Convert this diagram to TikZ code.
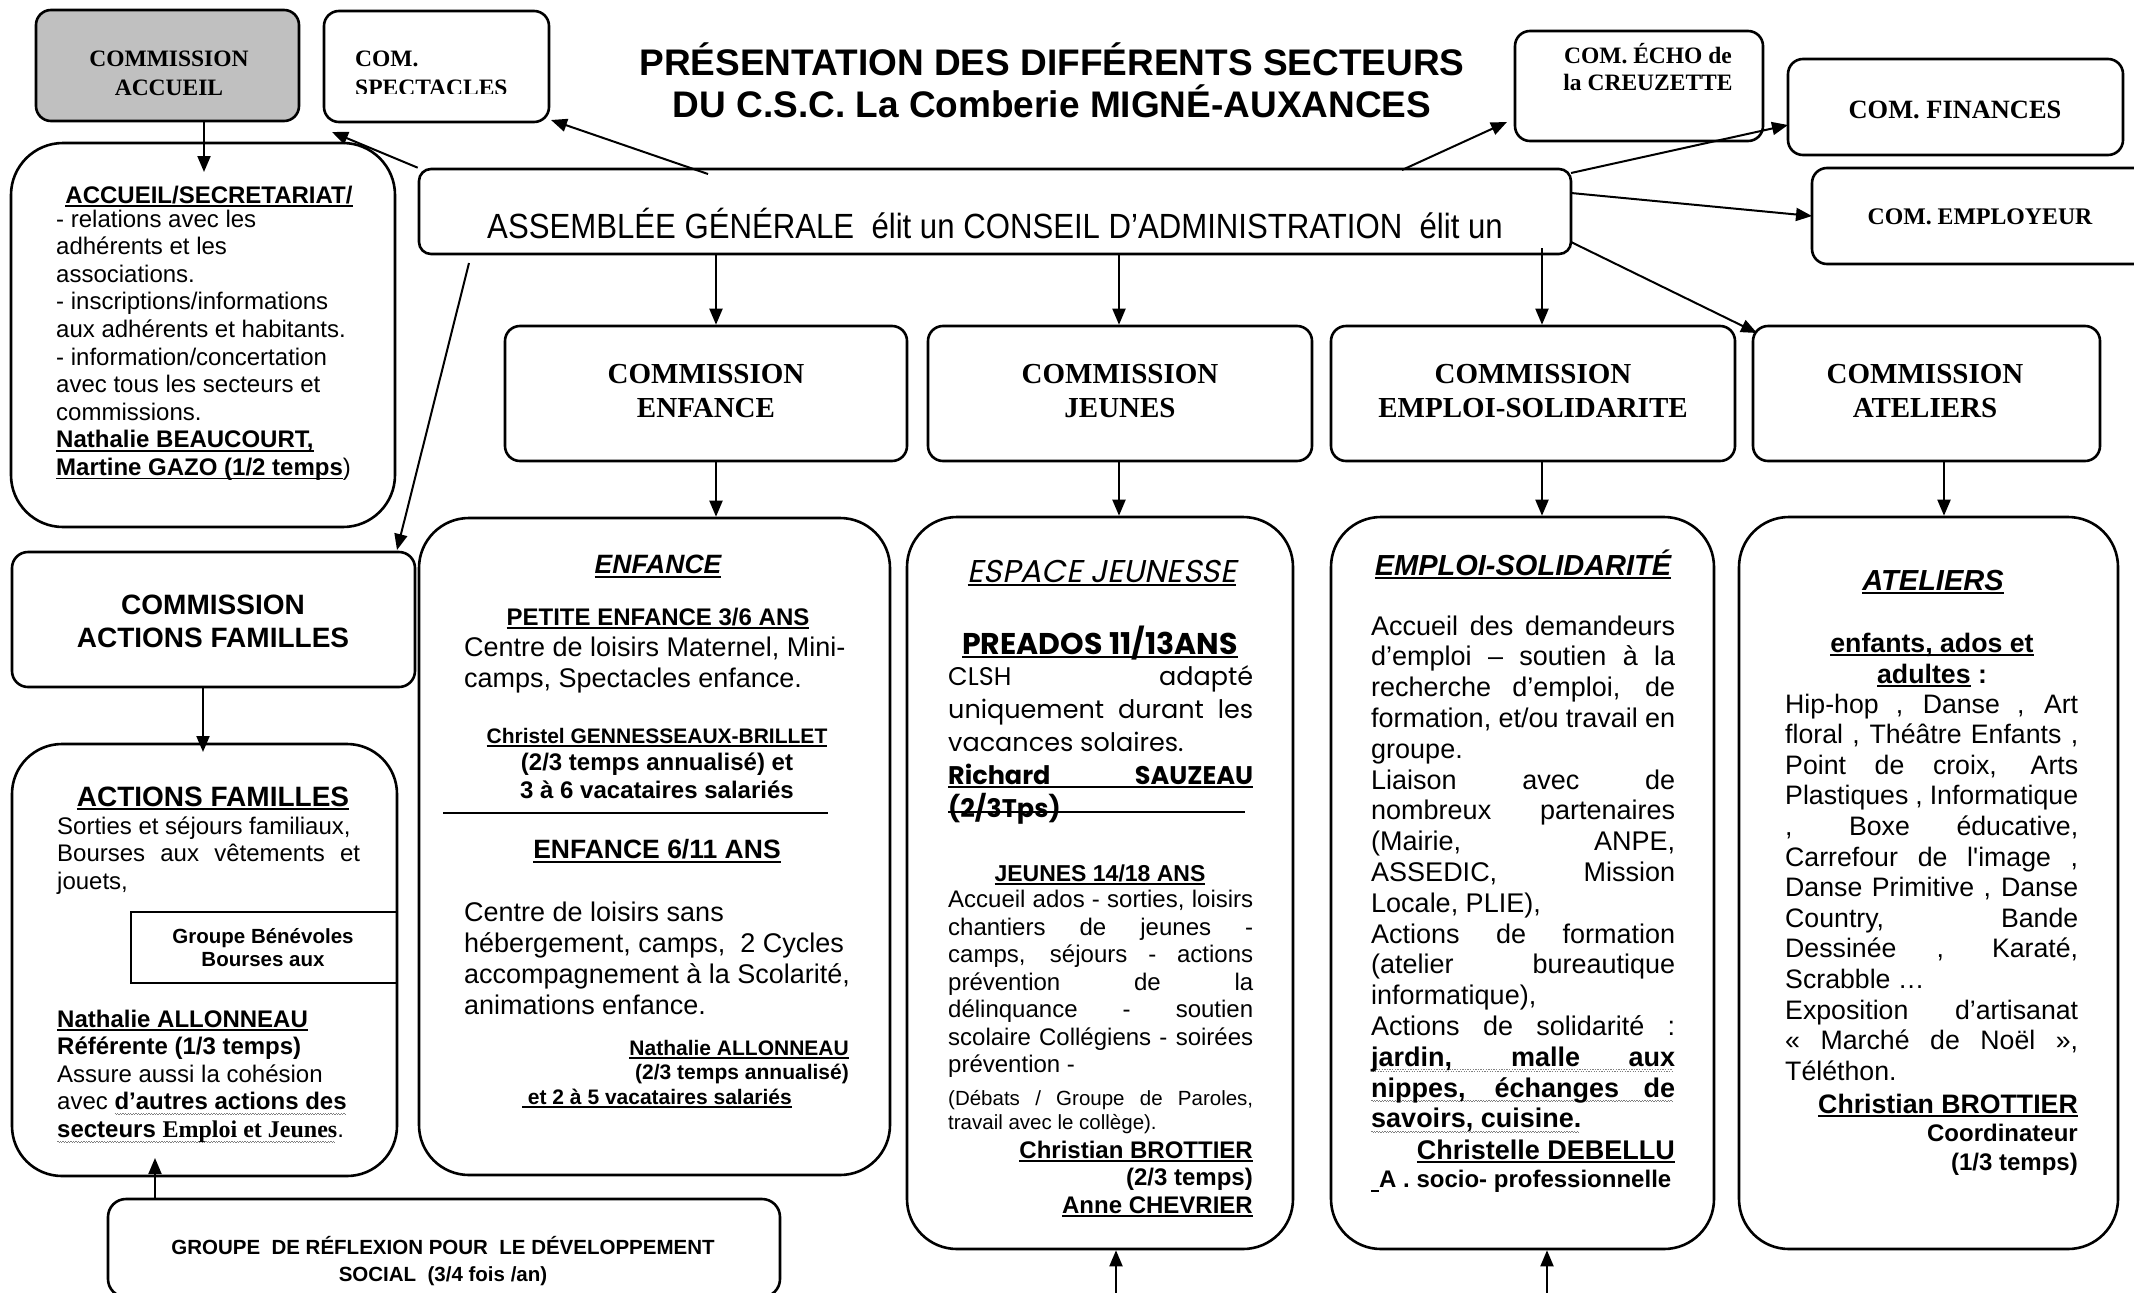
\documentclass[tikz,border=0pt]{standalone}
\usepackage{fontspec}
\setmainfont{Liberation Sans}
\newfontfamily\tms{Liberation Serif}
\newfontfamily\narrow{Liberation Sans}[FakeStretch=0.89]
\newfontfamily\gothic{Poppins}
\newfontfamily\gothicit{Poppins}[FakeSlant=0.2]
\usetikzlibrary{arrows.meta}
\definecolor{boxgray}{RGB}{192,192,192}
\newlength\LW
\newsavebox\ulbox
\newcommand\fs[2]{\fontsize{#1}{#2}\selectfont}
\newcommand\Tb[2]{\vtop{\baselineskip=#1\lineskiplimit=-1000pt\lineskip=0pt\relax #2}}
\newcommand\Tc[2]{\vtop{\baselineskip=#1\lineskiplimit=-1000pt\lineskip=0pt\relax\halign{\hfil##\hfil\cr#2\crcr}}}
\newcommand\Tr[2]{\vtop{\baselineskip=#1\lineskiplimit=-1000pt\lineskip=0pt\relax\halign{\hfil##\cr#2\crcr}}}
\newcommand\Lj[1]{\hbox to\LW{#1}}
\newcommand\Ll[1]{\hbox{#1}}
\newcommand\ulrule[1]{\rule[-4pt]{#1}{1.8pt}}
\newcommand\uline[1]{\leavevmode\sbox\ulbox{#1}\rlap{\ulrule{\wd\ulbox}}\usebox\ulbox}
\newcommand\wpat{\hbox{{\color{gray}\rule[-4pt]{1.3pt}{0.9pt}\rule[-5.2pt]{1.3pt}{0.9pt}}}}
\newcommand\wvfill[1]{\hbox to #1{\leaders\wpat\hfill}}
\newcommand\wv[1]{\leavevmode\sbox\ulbox{#1}\rlap{\wvfill{\wd\ulbox}}\usebox\ulbox}
\newcommand\Lju[1]{\hbox to\LW{\rlap{\ulrule{\LW}}#1}}
\newcommand\Ljw[1]{\hbox to\LW{\rlap{\wvfill{\LW}}#1}}
\tikzset{
  bx/.style={draw, line width=2.6pt, rounded corners=#1, inner sep=0pt},
  bx/.default=15pt,
  tc/.style={inner sep=0pt, anchor=base},
  tl/.style={inner sep=0pt, anchor=base west},
  tr/.style={inner sep=0pt, anchor=base east},
  arr/.style={line width=2pt, -{Triangle[length=16pt,width=13pt]}},
  lw/.style={execute at begin node={\setlength\LW{#1}}},
}
\begin{document}
\begin{tikzpicture}[x=1pt,y=-1pt]
\useasboundingbox (0,0) rectangle (2134,1293);
\fill[white] (0,0) rectangle (2134,1293);

% ---------- boxes ----------
\node[bx, fill=boxgray, minimum width=263pt, minimum height=111pt] (acc) at (167.5,65.5) {};
\node[bx, minimum width=225pt, minimum height=111pt] (spec) at (436.5,66.5) {};
\node[bx, minimum width=248pt, minimum height=110pt] (echo) at (1639,86) {};
\node[bx, minimum width=335pt, minimum height=96pt] (fin) at (1955.5,107) {};
\node[bx, minimum width=348pt, minimum height=96pt] (empl) at (1986,216) {};
\node[bx=12pt, minimum width=1152pt, minimum height=85pt] (ag) at (995,211.5) {};
\node[bx, minimum width=402pt, minimum height=135pt] (cenf) at (706,393.5) {};
\node[bx, minimum width=384pt, minimum height=135pt] (cjeu) at (1120,393.5) {};
\node[bx, minimum width=404pt, minimum height=135pt] (cemp) at (1533,393.5) {};
\node[bx, minimum width=347pt, minimum height=135pt] (catl) at (1926.5,393.5) {};
\node[bx=52pt, minimum width=384pt, minimum height=384pt] (bacc) at (203,335) {};
\node[bx=16pt, minimum width=403pt, minimum height=135pt] (caf) at (213.5,619.5) {};
\node[bx=50pt, minimum width=385pt, minimum height=432pt] (baf) at (204.5,960) {};
\node[draw, line width=2.2pt, inner sep=0pt, minimum width=266pt, minimum height=71pt] (gben) at (264,947.5) {};
\node[bx=50pt, minimum width=471pt, minimum height=657pt] (benf) at (654.5,846.5) {};
\node[bx=50pt, minimum width=386pt, minimum height=732pt] (bjeu) at (1100,883) {};
\node[bx=50pt, minimum width=383pt, minimum height=732pt] (bemp) at (1522.5,883) {};
\node[bx=50pt, minimum width=379pt, minimum height=732pt] (batl) at (1928.5,883) {};
\node[bx=18pt, minimum width=672pt, minimum height=98pt] (grp) at (444,1248) {};

% ---------- top texts ----------
\node[tc, font=\fs{37}{42}\bfseries] (title1) at (1052,75) {PRÉSENTATION DES DIFFÉRENTS SECTEURS};
\node[tc, font=\fs{37}{42}\bfseries] (title2) at (1052,117) {DU C.S.C. La Comberie MIGNÉ-AUXANCES};
\node[tc, font=\fs{23.5}{29}\tms\bfseries] (acctx) at (169,66) {\Tc{29pt}{COMMISSION\cr ACCUEIL}};
\begin{scope}
\clip (324,11) rectangle (549,93);
\node[tl, font=\fs{23.5}{29}\tms\bfseries] (spectx) at (355,66) {\Tb{29pt}{\Ll{COM.}\Ll{SPECTACLES}}};
\end{scope}
\node[tc, font=\fs{23.5}{27}\tms\bfseries] (echotx) at (1648,63) {\Tc{27pt}{COM. ÉCHO de\cr la CREUZETTE}};
\node[tc, font=\fs{26.4}{30}\tms\bfseries] (fintx) at (1955,118) {COM. FINANCES};
\node[tc, font=\fs{23.8}{28}\tms\bfseries] (empltx) at (1980,224) {COM. EMPLOYEUR};
\node[tc, font=\fs{35}{40}\narrow] (agtx) at (995,238) {ASSEMBLÉE GÉNÉRALE\ \ élit un CONSEIL D’ADMINISTRATION\ \ élit un};

\node[tc, font=\fs{29}{34}\tms\bfseries] (cenftx) at (706,383) {\Tc{34pt}{COMMISSION\cr ENFANCE}};
\node[tc, font=\fs{29}{34}\tms\bfseries] (cjeutx) at (1120,383) {\Tc{34pt}{COMMISSION\cr JEUNES}};
\node[tc, font=\fs{29}{34}\tms\bfseries] (cemptx) at (1533,383) {\Tc{34pt}{COMMISSION\cr EMPLOI-SOLIDARITE}};
\node[tc, font=\fs{29}{34}\tms\bfseries] (catltx) at (1925,383) {\Tc{34pt}{COMMISSION\cr ATELIERS}};

% ---------- accueil ----------
\node[tc, font=\fs{24}{27.6}\bfseries] (accti) at (209,203) {\uline{ACCUEIL/SECRETARIAT/}};
\node[tl, font=\fs{24}{27.6}] (accb) at (56,227) {\Tb{27.6pt}{%
\Ll{- relations avec les}%
\Ll{adhérents et les}%
\Ll{associations.}%
\Ll{- inscriptions/informations}%
\Ll{aux adhérents et habitants.}%
\Ll{- information/concertation}%
\Ll{avec tous les secteurs et}%
\Ll{commissions.}%
\Ll{\textbf{\uline{Nathalie BEAUCOURT,}}}%
\Ll{\textbf{\uline{Martine GAZO (1/2 temps}})}}};

% ---------- actions familles ----------
\node[tc, font=\fs{28}{33}\bfseries] (caftx) at (213,614) {\Tc{33pt}{COMMISSION\cr ACTIONS FAMILLES}};
\node[tc, font=\fs{28}{33}\bfseries] (afti) at (213,806) {\uline{ACTIONS FAMILLES}};
\node[tl, lw=303pt, font=\fs{24}{27.6}] (afb1) at (57,834) {\Tb{27.6pt}{%
\Ll{Sorties et séjours familiaux,}%
\Lj{Bourses aux vêtements et}%
\Ll{jouets,}}};
\node[tc, font=\fs{20.5}{23}\bfseries] (gbentx) at (263,943) {\Tc{23pt}{Groupe Bénévoles\cr Bourses aux}};
\node[tl, font=\fs{24}{27.6}] (afb2) at (57,1027) {\Tb{27.6pt}{%
\Ll{\textbf{\uline{Nathalie ALLONNEAU}}}%
\Ll{\textbf{Référente (1/3 temps)}}%
\Ll{Assure aussi la cohésion}%
\Ll{avec \textbf{\wv{d’autres actions des}}}%
\Ll{\textbf{\wv{secteurs {\tms Emploi et Jeunes}}}.}}};

% ---------- enfance ----------
\node[tc, font=\fs{26.5}{31}\bfseries\itshape] (enfti) at (658,573.5) {\uline{ENFANCE}};
\node[tc, font=\fs{24}{28}\bfseries] (petti) at (658,625) {\uline{PETITE ENFANCE 3/6 ANS}};
\node[tl, font=\fs{27}{31}] (enb1) at (464,656) {\Tb{31pt}{%
\Ll{Centre de loisirs Maternel, Mini-}%
\Ll{camps, Spectacles enfance.}}};
\node[tc, font=\fs{21}{24}\bfseries] (chrtx) at (657,743) {\uline{Christel GENNESSEAUX-BRILLET}};
\node[tc, font=\fs{24}{28}\bfseries] (enb2) at (657,770) {\Tc{28pt}{(2/3 temps annualisé) et\cr 3 à 6 vacataires salariés}};
\draw[line width=1.8pt] (443,813) -- (828,813);
\node[tc, font=\fs{26.5}{31}\bfseries] (e611) at (657,858.5) {\uline{ENFANCE 6/11 ANS}};
\node[tl, font=\fs{27}{31}] (enb3) at (464,921) {\Tb{31pt}{%
\Ll{Centre de loisirs sans}%
\Ll{hébergement, camps,\ \ 2 Cycles}%
\Ll{accompagnement à la Scolarité,}%
\Ll{animations enfance.}}};
\node[tr, font=\fs{21}{24.5}\bfseries] (enb4) at (849,1055) {\Tr{24.5pt}{\uline{Nathalie ALLONNEAU}\cr(2/3 temps annualisé)}};
\node[tc, font=\fs{21}{24.5}\bfseries] (enb5) at (657,1104) {\uline{\ et 2 à 5 vacataires salariés}};

% ---------- jeunesse ----------
\node[tc, font=\fs{31.5}{36}\gothicit] (espti) at (1102,582) {\uline{ESPACE JEUNESSE}};
\node[tc, font=\fs{30}{34}\gothic\bfseries] (preti) at (1100,654) {\uline{PREADOS 11/13ANS}};
\node[tl, lw=305pt, font=\fs{25.5}{33}\gothic] (jb1) at (948,685) {\Tb{33pt}{%
\Lj{CLSH adapté}%
\Lj{uniquement durant les}%
\Ll{vacances solaires.}%
\Lju{\textbf{Richard SAUZEAU}}%
\Ll{\textbf{(2/3Tps)}}}};
\draw[line width=1.8pt] (948,812) -- (1245,812);
\node[tc, font=\fs{23}{27}\bfseries] (jeuti) at (1100,881) {\uline{JEUNES 14/18 ANS}};
\node[tl, lw=305pt, font=\fs{24}{27.5}] (jb2) at (948,907.5) {\Tb{27.5pt}{%
\Lj{Accueil ados - sorties, loisirs}%
\Lj{chantiers de jeunes -}%
\Lj{camps, séjours - actions}%
\Lj{prévention de la}%
\Lj{délinquance - soutien}%
\Lj{scolaire Collégiens - soirées}%
\Ll{prévention -}}};
\node[tl, lw=305pt, font=\fs{20.5}{24}] (jb3) at (948,1105) {\Tb{24pt}{%
\Lj{(Débats / Groupe de Paroles,}%
\Ll{travail avec le collège).}}};
\node[tr, font=\fs{24}{27.5}\bfseries] (jb4) at (1253,1158) {\Tr{27.5pt}{\uline{Christian BROTTIER}\cr(2/3 temps)\cr\uline{Anne CHEVRIER}}};

% ---------- emploi ----------
\node[tc, font=\fs{29}{34}\bfseries\itshape] (empti) at (1523,575) {\uline{EMPLOI-SOLIDARITÉ}};
\node[tl, lw=304pt, font=\fs{27}{30.8}] (eb1) at (1371,635) {\Tb{30.8pt}{%
\Lj{Accueil des demandeurs}%
\Lj{d’emploi – soutien à la}%
\Lj{recherche d’emploi, de}%
\Lj{formation, et/ou travail en}%
\Ll{groupe.}%
\Lj{Liaison avec de}%
\Lj{nombreux partenaires}%
\Lj{(Mairie, ANPE,}%
\Lj{ASSEDIC, Mission}%
\Ll{Locale, PLIE),}%
\Lj{Actions de formation}%
\Lj{(atelier bureautique}%
\Ll{informatique),}%
\Lj{Actions de solidarité :}%
\Ljw{\textbf{jardin, malle aux}}%
\Ljw{\textbf{nippes, échanges de}}%
\Ll{\textbf{\wv{savoirs, cuisine.}}}}};
\node[tr, font=\fs{27}{31}\bfseries] (eb2) at (1675,1159) {\uline{Christelle DEBELLU}};
\node[tl, font=\fs{24}{28}\bfseries] (eb3) at (1379,1187) {A . socio- professionnelle};
\draw[line width=2.5pt] (1371,1191) -- (1379,1191);

% ---------- ateliers ----------
\node[tc, font=\fs{29}{34}\bfseries\itshape] (atlti) at (1933,590) {\uline{ATELIERS}};
\node[tc, font=\fs{26.7}{31}\bfseries] (atls) at (1932,652) {\Tc{31pt}{\uline{enfants, ados et}\cr\uline{adultes} :}};
\node[tl, lw=293pt, font=\fs{26.7}{30.6}] (ab1) at (1785,713) {\Tb{30.6pt}{%
\Lj{Hip-hop , Danse , Art}%
\Lj{floral , Théâtre Enfants ,}%
\Lj{Point de croix, Arts}%
\Lj{Plastiques , Informatique}%
\Lj{, Boxe éducative,}%
\Lj{Carrefour de l\textquotesingle image ,}%
\Lj{Danse Primitive , Danse}%
\Lj{Country, Bande}%
\Lj{Dessinée , Karaté,}%
\Ll{Scrabble …}%
\Lj{Exposition d’artisanat}%
\Lj{« Marché de Noël »,}%
\Ll{Téléthon.}}};
\node[tr, font=\fs{26.7}{31}\bfseries] (ab2) at (2078,1113) {\uline{Christian BROTTIER}};
\node[tr, font=\fs{24}{29}\bfseries] (ab3) at (2078,1141) {\Tr{29pt}{Coordinateur\cr(1/3 temps)}};

% ---------- groupe ----------
\node[tc, font=\fs{20.5}{27}\bfseries] (grptx) at (443,1254) {\Tc{27pt}{GROUPE\ \ DE RÉFLEXION POUR\ \ LE DÉVELOPPEMENT\cr SOCIAL\ \ (3/4 fois /an)}};

% ---------- connectors ----------
\coordinate (p1) at (204,172);
\draw[arr] (acc.south -| p1) -- (p1);
\coordinate (c1s) at (708,174); \coordinate (c1e) at (551,120);
\draw[arr] (c1s) -- (c1e);
\coordinate (c2e) at (332,132);
\draw[arr] (ag.north west) -- (c2e);
\coordinate (c3s) at (1402,170); \coordinate (c3e) at (1507,122);
\draw[arr] (c3s) -- (c3e);
\coordinate (c4s) at (1571,173); \coordinate (c4e) at (1788,125);
\draw[arr] (c4s) -- (c4e);
\coordinate (c5s) at (1571,193); \coordinate (c5e) at (1812,216);
\draw[arr] (c5s) -- (c5e);
\coordinate (c6s) at (1571,242); \coordinate (c6e) at (1757,333);
\draw[arr] (c6s) -- (c6e);
\coordinate (c7s) at (469,263); \coordinate (c7e) at (397,550);
\draw[arr] (c7s) -- (c7e);
\coordinate (v1) at (716,0); \coordinate (v2) at (1119,0);
\coordinate (v3s) at (1542,248); \coordinate (v4) at (1944,0);
\draw[arr] (ag.south -| v1) -- (cenf.north -| v1);
\draw[arr] (ag.south -| v2) -- (cjeu.north -| v2);
\draw[arr] (v3s) -- (cemp.north -| v3s);
\draw[arr] (cenf.south -| v1) -- (benf.north -| v1);
\draw[arr] (cjeu.south -| v2) -- (bjeu.north -| v2);
\draw[arr] (cemp.south -| v3s) -- (bemp.north -| v3s);
\draw[arr] (catl.south -| v4) -- (batl.north -| v4);
\coordinate (d1e) at (203,752);
\draw[arr] (caf.south -| d1e) -- (d1e);
\coordinate (g1e) at (155,1158);
\draw[arr] (grp.north -| g1e) -- (g1e);
\coordinate (b1) at (1116,1300); \coordinate (b2) at (1547,1300);
\draw[arr] (b1) -- (bjeu.south -| b1);
\draw[arr] (b2) -- (bemp.south -| b2);
\end{tikzpicture}
\end{document}
